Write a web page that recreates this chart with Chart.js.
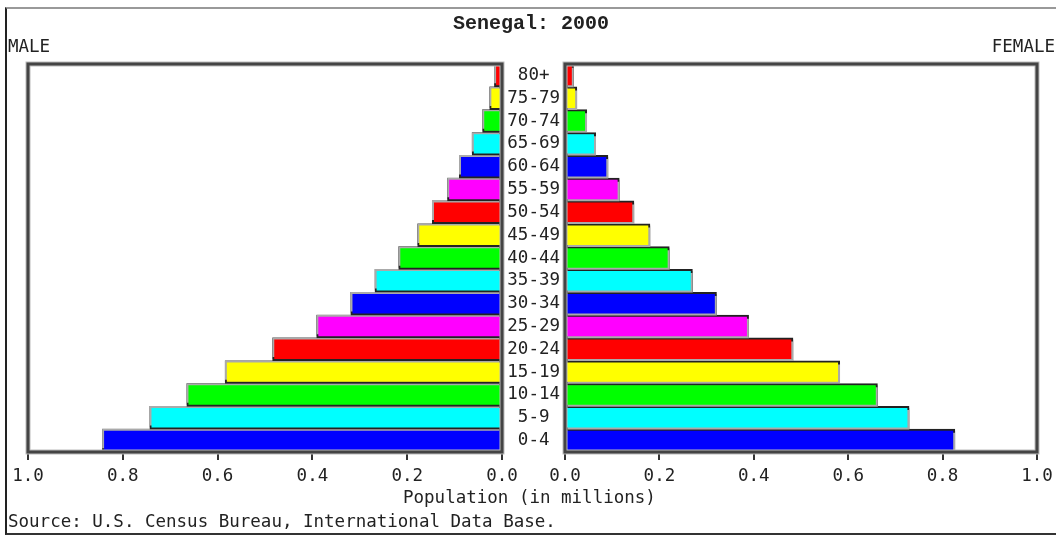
<!DOCTYPE html>
<html>
<head>
<meta charset="utf-8">
<script src="https://cdn.jsdelivr.net/npm/chart.js@4"></script>
<style>
  body { margin: 0; background: #fff; }
  #wrap { position: relative; width: 1056px; height: 536px; overflow: hidden; font-family: "DejaVu Sans Mono", monospace; color: #222; }
  canvas { position: absolute; left: 0; top: 0; }
  .frame { position: absolute; left: 5px; top: 7px; width: 1051px; height: 524px; border-top: 2px solid #999; border-left: 2px solid #222; border-bottom: 2px solid #333; }
  .txt { position: absolute; font-size: 17.5px; line-height: 20px; white-space: nowrap; }
  #title { left: 3px; width: 1056px; top: 12px; text-align: center; font: bold 20px "Liberation Mono", monospace; }
</style>
</head>
<body>
<div id="wrap">
  <div class="frame"></div>
  <canvas id="maleChart" width="1056" height="536"></canvas>
  <canvas id="femaleChart" width="1060" height="536"></canvas>
  <div id="title" class="txt">Senegal: 2000</div>
  <div class="txt" style="left:8px; top:36px;">MALE</div>
  <div class="txt" style="right:1px; top:36px;">FEMALE</div>
  <div class="txt" style="left:403px; top:487px;">Population (in millions)</div>
  <div class="txt" style="left:8px; top:511px;">Source: U.S. Census Bureau, International Data Base.</div>
</div>
<script>
//age groups, bottom to top
const ageGroups = ['0-4','5-9','10-14','15-19','20-24','25-29','30-34','35-39','40-44',
  '45-49','50-54','55-59','60-64','65-69','70-74','75-79','80+'];

//population in millions
const maleValues = [0.843, 0.743, 0.665, 0.584, 0.484, 0.391, 0.319, 0.268, 0.218,
  0.178, 0.147, 0.115, 0.090, 0.063, 0.041, 0.026, 0.016];
const femaleValues = [0.826, 0.729, 0.662, 0.582, 0.483, 0.389, 0.321, 0.270, 0.221,
  0.180, 0.146, 0.115, 0.091, 0.065, 0.046, 0.025, 0.018];

//colour cycle used for the rows
const palette = ['#0000ff', '#00ffff', '#00ff00', '#ffff00', '#ff0000', '#ff00ff'];
const rowColors = ageGroups.map((a, i) => palette[i % palette.length]);

const font = {family: '"DejaVu Sans Mono", monospace', size: 17.5};

//bar shadow + panel frame
function panelPlugin(dx, dy) {
  return {
    id: 'panel',
    beforeDatasetsDraw(chart) {
      const ctx = chart.ctx;
      ctx.save();
      ctx.shadowColor = '#aaa';
      ctx.shadowOffsetX = dx;
      ctx.shadowOffsetY = dy;
    },
    afterDatasetsDraw(chart) {
      chart.ctx.restore();
    },
    afterDraw(chart) {
      const ctx = chart.ctx, a = chart.chartArea;
      ctx.save();
      ctx.strokeStyle = '#bbb';
      ctx.lineWidth = 5;
      ctx.strokeRect(a.left, a.top, a.right - a.left, a.bottom - a.top);
      ctx.strokeStyle = '#444';
      ctx.lineWidth = 3;
      ctx.strokeRect(a.left, a.top, a.right - a.left, a.bottom - a.top);
      ctx.restore();
    }
  };
}

function xAxis(reverse) {
  return {
    type: 'linear', min: 0, max: 1, reverse: reverse,
    afterFit: s => { s.height = 40; },
    ticks: {stepSize: 0.2, padding: 6, color: '#222', font: font, maxRotation: 0,
      callback: v => v.toFixed(1)},
    grid: {drawOnChartArea: false, tickLength: 8, color: '#333', lineWidth: 2},
    border: {display: true, color: '#333', width: 3}
  };
}

//male chart (left panel, axis runs right to left)
new Chart('maleChart', {
  type: 'bar',
  data: {labels: ageGroups, datasets: [{data: maleValues, backgroundColor: rowColors,
    borderColor: '#222', borderWidth: 2, categoryPercentage: 1, barPercentage: 1}]},
  options: {
    indexAxis: 'y', responsive: false, animation: false, devicePixelRatio: 1,
    layout: {padding: {left: 28, top: 64, right: 491, bottom: 44}},
    plugins: {legend: {display: false}, tooltip: {enabled: false}},
    scales: {
      x: xAxis(true),
      y: {position: 'right', reverse: true, afterFit: s => { s.width = 63; },
        ticks: {display: false}, grid: {display: false},
        border: {display: true, color: '#333', width: 3}}
    }
  },
  plugins: [panelPlugin(-2, -2)]
});

//female chart (right panel), age labels sit on its y axis
new Chart('femaleChart', {
  type: 'bar',
  data: {labels: ageGroups, datasets: [{data: femaleValues, backgroundColor: rowColors,
    borderColor: '#222', borderWidth: 2, categoryPercentage: 1, barPercentage: 1}]},
  options: {
    indexAxis: 'y', responsive: false, animation: false, devicePixelRatio: 1,
    layout: {padding: {left: 502, top: 64, right: 23, bottom: 44}},
    plugins: {legend: {display: false}, tooltip: {enabled: false}},
    scales: {
      x: xAxis(false),
      y: {position: 'left', reverse: true, afterFit: s => { s.width = 63; },
        ticks: {color: '#222', font: font, padding: 5, crossAlign: 'center', autoSkip: false},
        grid: {display: false, drawTicks: false, tickLength: 0},
        border: {display: true, color: '#333', width: 3}}
    }
  },
  plugins: [panelPlugin(2, 2)]
});
</script>
</body>
</html>
